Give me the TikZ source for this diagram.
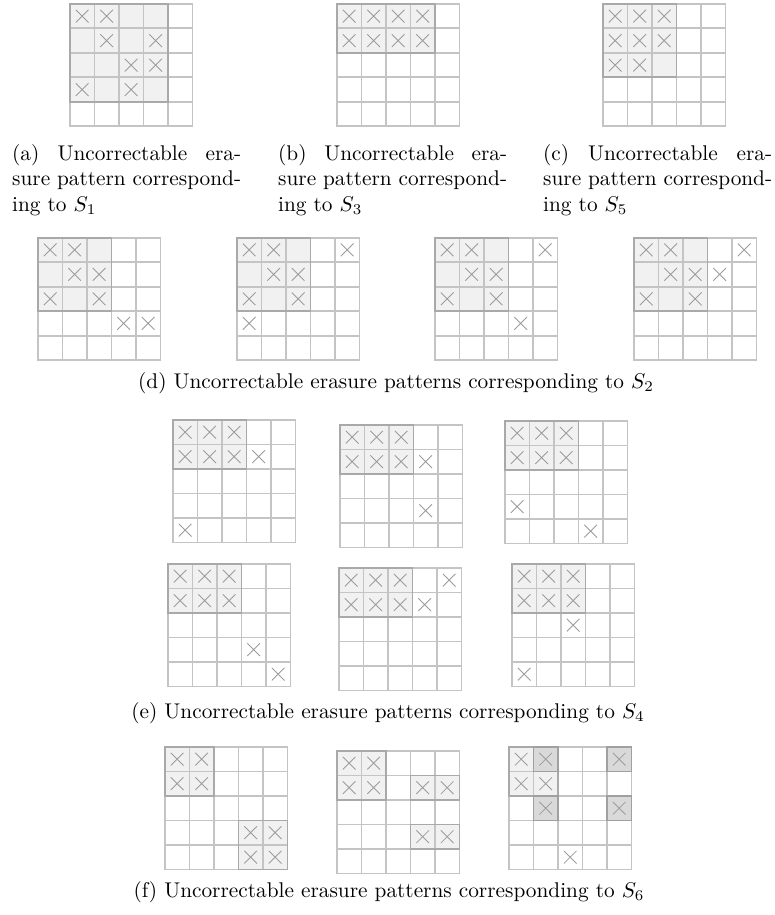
\documentclass[tikz,border=0pt]{standalone}
\usepackage{graphicx}
\definecolor{gridc}{HTML}{C4C4C4}
\definecolor{lightf}{HTML}{F1F1F1}
\definecolor{lighte}{HTML}{A9A9A9}
\definecolor{darkf}{HTML}{D9D9D9}
\definecolor{darke}{HTML}{A0A0A0}
\definecolor{crossc}{HTML}{9C9C9C}
\tikzset{
  gridline/.style={draw=gridc,line width=1.8pt},
  xline/.style={draw=crossc,line width=0.8pt},
  capnode/.style={inner sep=0pt,anchor=base west},
  longcap/.style={inner sep=0pt,anchor=base}
}
\newcommand\pgrid[4]{%
\begin{scope}[shift={(#1,#2)},x=24.5pt,y=-24.5pt]
\foreach \ca/\ra/\cb/\rb/\fc/\ec in {#3}{\fill[fill=\fc] (\ca,\ra) rectangle (\cb,\rb);}
\foreach \i in {1,...,4}{\draw[gridline] (\i,0) -- (\i,5); \draw[gridline] (0,\i) -- (5,\i);}
\draw[gridline] (0,0) rectangle (5,5);
\foreach \ca/\ra/\cb/\rb/\fc/\ec in {#3}{\draw[draw=\ec,line width=1.8pt] (\ca,\ra) rectangle (\cb,\rb);}
\foreach \rr/\cc in {#4}{\draw[xline] (\cc+.24,\rr+.24) -- (\cc+.76,\rr+.76) (\cc+.24,\rr+.76) -- (\cc+.76,\rr+.24);}
\end{scope}}
\newcommand\subcap[4]{\node[capnode] (#1) at (#2,#3) {\scalebox{2.13}{\parbox[t]{107.5pt}{\fontsize{10}{12}\selectfont #4}}};}
\newcommand\widecap[4]{\node[longcap] (#1) at (#2,#3) {\scalebox{2.13}{\fontsize{10}{12}\selectfont #4}};}
\begin{document}
\begin{tikzpicture}[x=1pt,y=-1pt]
\useasboundingbox (0,0) rectangle (775,915);
% (a)(b)(c)
\pgrid{69.9}{3.9}{0/0/4/4/lightf/lighte}{0/0,0/1,1/1,1/3,2/2,2/3,3/0,3/2}
\pgrid{336.9}{3.9}{0/0/4/2/lightf/lighte}{0/0,0/1,0/2,0/3,1/0,1/1,1/2,1/3}
\pgrid{602.9}{3.9}{0/0/3/3/lightf/lighte}{0/0,0/1,0/2,1/0,1/1,1/2,2/0,2/1}
\subcap{capa}{12}{160.4}{(a) Uncorrectable era-\linebreak sure pattern correspond-\linebreak ing to $S_1$}
\subcap{capb}{278}{160.4}{(b) Uncorrectable era-\linebreak sure pattern correspond-\linebreak ing to $S_3$}
\subcap{capc}{543}{160.4}{(c) Uncorrectable era-\linebreak sure pattern correspond-\linebreak ing to $S_5$}
% (d)
\pgrid{37.9}{237.6}{0/0/3/3/lightf/lighte}{0/0,0/1,1/1,1/2,2/0,2/2,3/3,3/4}
\pgrid{236.9}{237.6}{0/0/3/3/lightf/lighte}{0/0,0/1,1/1,1/2,2/0,2/2,0/4,3/0}
\pgrid{434.9}{237.6}{0/0/3/3/lightf/lighte}{0/0,0/1,1/1,1/2,2/0,2/2,0/4,3/3}
\pgrid{633.9}{237.6}{0/0/3/3/lightf/lighte}{0/0,0/1,1/1,1/2,2/0,2/2,0/4,1/3}
\widecap{capd}{396}{388}{(d) Uncorrectable erasure patterns corresponding to $S_2$}
% (e)
\pgrid{172.9}{419.9}{0/0/3/2/lightf/lighte}{0/0,0/1,0/2,1/0,1/1,1/2,1/3,4/0}
\pgrid{339.9}{424.9}{0/0/3/2/lightf/lighte}{0/0,0/1,0/2,1/0,1/1,1/2,1/3,3/3}
\pgrid{504.9}{420.9}{0/0/3/2/lightf/lighte}{0/0,0/1,0/2,1/0,1/1,1/2,3/0,4/3}
\pgrid{167.9}{563.9}{0/0/3/2/lightf/lighte}{0/0,0/1,0/2,1/0,1/1,1/2,3/3,4/4}
\pgrid{338.9}{567.9}{0/0/3/2/lightf/lighte}{0/0,0/1,0/2,1/0,1/1,1/2,0/4,1/3}
\pgrid{511.9}{563.9}{0/0/3/2/lightf/lighte}{0/0,0/1,0/2,1/0,1/1,1/2,2/2,4/0}
\widecap{cape}{388}{718}{(e) Uncorrectable erasure patterns corresponding to $S_4$}
% (f)
\pgrid{164.9}{746.9}{0/0/2/2/lightf/lighte,3/3/5/5/lightf/lighte}{0/0,0/1,1/0,1/1,3/3,3/4,4/3,4/4}
\pgrid{336.9}{750.9}{0/0/2/2/lightf/lighte,3/1/5/2/lightf/lighte,3/3/5/4/lightf/lighte}{0/0,0/1,1/0,1/1,1/3,1/4,3/3,3/4}
\pgrid{508.9}{746.9}{0/0/2/2/lightf/lighte,1/0/2/1/darkf/darke,1/2/2/3/darkf/darke,4/0/5/1/darkf/darke,4/2/5/3/darkf/darke}{0/0,0/1,1/0,1/1,2/1,0/4,2/4,4/2}
\widecap{capf}{389}{897}{(f) Uncorrectable erasure patterns corresponding to $S_6$}
\end{tikzpicture}
\end{document}
